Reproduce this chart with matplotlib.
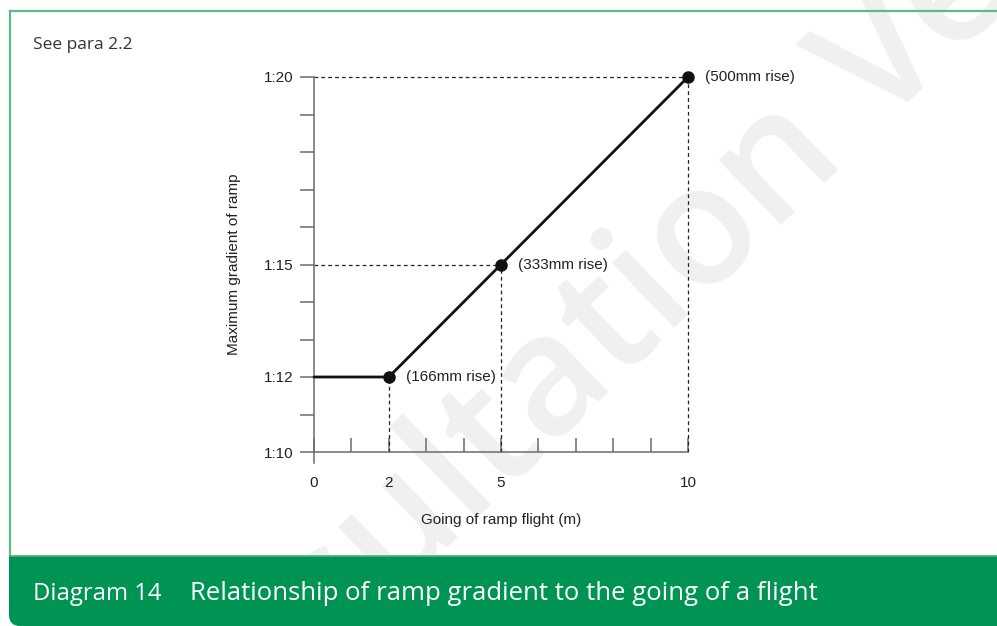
import matplotlib
matplotlib.use("Agg")
import matplotlib.pyplot as plt
from matplotlib.patches import Rectangle, FancyBboxPatch
from matplotlib.ticker import MultipleLocator

# data
going = [0, 2, 5, 10]            # going of ramp flight (m)
gradient = [12, 12, 15, 20]      # maximum gradient 1:n
marked_going = [2, 5, 10]
marked_gradient = [12, 15, 20]
rise_labels = ["(166mm rise)", "(333mm rise)", "(500mm rise)"]
x_ticks = [0, 2, 5, 10]
x_tick_labels = ["0", "2", "5", "10"]
y_ticks = [10, 12, 15, 20]
y_tick_labels = ["1:10", "1:12", "1:15", "1:20"]

W, H = 997, 626
GREEN = "#009454"
FRAME = "#5cba88"
AXIS_GREY = "#6b6b6b"
chart_font = "Liberation Sans"
doc_font = "Open Sans"

fig = plt.figure(figsize=(W / 100, H / 100), dpi=100)

# page furniture, in pixel coordinates
bg = fig.add_axes([0, 0, 1, 1], zorder=0)
bg.set_xlim(0, W)
bg.set_ylim(H, 0)
bg.axis("off")

bg.text(680, 262, "Consultation Version", rotation=44, rotation_mode="anchor",
        ha="center", va="center", fontsize=120, fontweight="semibold",
        color="#f0f0f0", family=doc_font, zorder=1)

bg.plot([10, W], [11, 11], color=FRAME, lw=1.6, zorder=2)
bg.plot([10, 10], [11, 556], color=FRAME, lw=1.6, zorder=2)
bg.add_patch(Rectangle((9, 556), W, 50, facecolor=GREEN, edgecolor="none", zorder=3))
bg.add_patch(FancyBboxPatch((9, 575), W + 100, 51, boxstyle="round,pad=0,rounding_size=11",
                            facecolor=GREEN, edgecolor="none", zorder=3))
bg.plot([10, W], [556, 556], color="#4fb07e", lw=1.2, zorder=4)

bg.text(33, 45, "See para 2.2", fontsize=12.5, color="#333333", family=doc_font,
        ha="left", va="center")
bg.text(33, 594, "Diagram 14", fontsize=17.2, color="white", family=doc_font,
        ha="left", va="center", zorder=5)
bg.text(190, 594, "Relationship of ramp gradient to the going of a flight", fontsize=18.5,
        color="white", family=doc_font, ha="left", va="center", zorder=5)

# the chart itself
ax = fig.add_axes([314 / W, (H - 452) / H, 374 / W, 375 / H], zorder=1)
ax.patch.set_alpha(0)

for gx, gy in zip(marked_going, marked_gradient):
    if gy > 12:
        ax.plot([0, gx], [gy, gy], color="#222222", lw=0.9, dashes=(3, 2.5),
                zorder=2, clip_on=False)
    ax.plot([gx, gx], [10, gy], color="#222222", lw=0.9, dashes=(3, 2.5),
            zorder=2, clip_on=False)

ax.plot(going, gradient, color="#111111", lw=2, solid_capstyle="round", zorder=3, clip_on=False)
ax.plot(marked_going, marked_gradient, "o", color="#111111", ms=8, zorder=4, clip_on=False)

for gx, gy, lab in zip(marked_going, marked_gradient, rise_labels):
    ax.annotate(lab, (gx, gy), xytext=(12.5, 0), textcoords="offset points",
                ha="left", va="center", fontsize=11, color="#222222", family=chart_font)

ax.set_xlim(0, 10)
ax.set_ylim(10, 20)
ax.set_xticks(x_ticks)
ax.set_xticklabels(x_tick_labels)
ax.set_yticks(y_ticks)
ax.set_yticklabels(y_tick_labels)
ax.xaxis.set_minor_locator(MultipleLocator(1))
ax.yaxis.set_minor_locator(MultipleLocator(1))

ax.tick_params(axis="x", which="both", direction="in", length=10, width=1.1,
               color=AXIS_GREY, pad=17)
ax.tick_params(axis="y", which="both", direction="out", length=10, width=1.1,
               color=AXIS_GREY, pad=5)
for lab in ax.get_xticklabels() + ax.get_yticklabels():
    lab.set_family(chart_font)
    lab.set_fontsize(11)
    lab.set_color("#222222")

for side in ["top", "right"]:
    ax.spines[side].set_visible(False)
for side in ["left", "bottom"]:
    ax.spines[side].set_color(AXIS_GREY)
    ax.spines[side].set_linewidth(1.1)
ax.spines["left"].set_bounds(9.7, 20)

ax.set_xlabel("Going of ramp flight (m)", fontsize=11, family=chart_font,
              color="#222222", labelpad=17)
ax.set_ylabel("Maximum gradient of ramp", fontsize=11, family=chart_font,
              color="#222222", labelpad=16)

fig.savefig("out.png", dpi=100)
